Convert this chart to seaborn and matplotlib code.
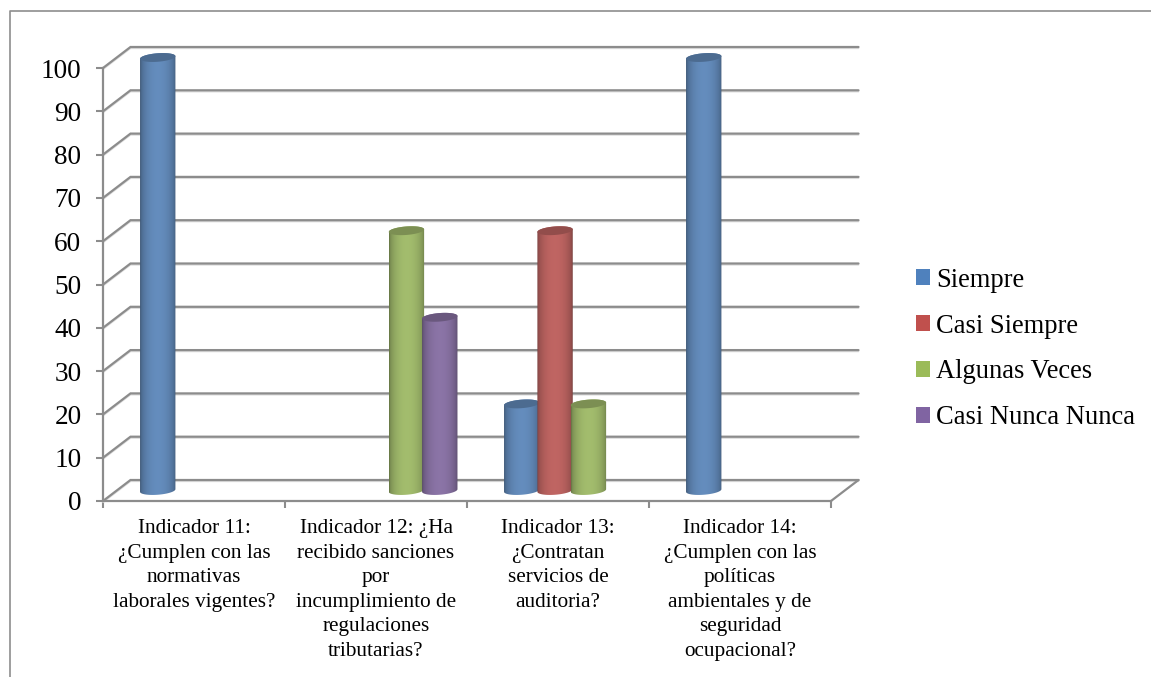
import numpy as np
import pandas as pd
import seaborn as sns
import matplotlib
matplotlib.use("Agg")
import matplotlib.pyplot as plt
from matplotlib.lines import Line2D
from matplotlib.patches import Patch, PathPatch, Polygon, Rectangle
from matplotlib.path import Path

categories = [
    "Indicador 11:\n¿Cumplen con las\nnormativas\nlaborales vigentes?",
    "Indicador 12: ¿Ha\nrecibido sanciones\npor\nincumplimiento de\nregulaciones\ntributarias?",
    "Indicador 13:\n¿Contratan\nservicios de\nauditoria?",
    "Indicador 14:\n¿Cumplen con las\npolíticas\nambientales y de\nseguridad\nocupacional?",
]
series_names = ["Siempre", "Casi Siempre", "Algunas Veces", "Casi Nunca Nunca"]
siempre = [100, 0, 20, 100]
casi_siempre = [0, 0, 60, 0]
algunas_veces = [0, 60, 20, 0]
casi_nunca = [0, 40, 0, 0]
colors = ["#4F81BD", "#C0504D", "#9BBB59", "#8064A2"]
y_ticks = list(range(0, 101, 10))

GRID = "#8c8c8c"
PALE = "#dcdcdc"

sns.set_theme(style="white")
plt.rcParams["font.family"] = ["Liberation Serif", "DejaVu Serif"]

W, H = 1151, 677
fig = plt.figure(figsize=(W / 100, H / 100), dpi=100)
ax = fig.add_axes([103 / W, (H - 501) / H, 728 / W, 433 / H])

table = pd.DataFrame({
    "indicador": categories * 4,
    "serie": np.repeat(series_names, 4),
    "valor": siempre + casi_siempre + algunas_veces + casi_nunca,
})
sns.barplot(data=table, x="indicador", y="valor", hue="serie", hue_order=series_names,
            palette=colors, width=0.733, gap=0, legend=False, ax=ax)

ax.set_xlim(-0.5, 3.5)
ax.set_ylim(0, 100)

# Depth of the chart floor, in data units of each axis
depth_x = 27.5 / 182
depth_y = 21 / 4.33
pale_shift = 0.3

# Back wall and side wall grid
for v in y_ticks:
    xs = [-0.5, -0.5 + depth_x, 3.5 + depth_x]
    ys = [v, v + depth_y, v + depth_y]
    ax.plot(xs, np.array(ys) - pale_shift, color=PALE, lw=1.2, clip_on=False, zorder=1)
    ax.plot(xs, ys, color=GRID, lw=1.6, clip_on=False, zorder=1.1, solid_joinstyle="miter")
ax.plot([3.5, 3.5 + depth_x], [0, depth_y], color=GRID, lw=1.6, clip_on=False, zorder=1.1)


def shaded_strip(rgb, n=64):
    """Horizontal light profile of a lit cylinder, as an RGB strip."""
    t = np.linspace(0, 1, n)
    light = 0.66 + 0.42 * np.sin(np.pi * t) ** 0.45
    return np.clip(np.array(rgb)[None, :] * light[:, None], 0, 1)[None, :, :]


bars = [p for p in ax.patches if isinstance(p, Rectangle)]
cap_h = 8.5 / 4.33
tilt = 0.3
bulge = 1 / 182
angles = np.linspace(0, np.pi, 40)
for index, patch in enumerate(bars):
    h = patch.get_height()
    patch.set_visible(False)
    if not h:
        continue
    x0 = patch.get_x() + depth_x / 2 - bulge
    w = patch.get_width() + 2 * bulge
    cx = x0 + w / 2
    rgb = patch.get_facecolor()[:3]
    base = depth_y / 2
    top = h + depth_y / 2
    slant = np.cos(angles) * tilt
    # Outline: upper half of the top cap, lower half of the base
    upper = np.c_[cx + np.cos(angles) * w / 2, top + np.sin(angles) * cap_h / 2 + slant]
    lower = np.c_[cx - np.cos(angles) * w / 2, base - np.sin(angles) * cap_h / 2 - slant]
    outline = Path(np.vstack([upper, lower, upper[:1]]), closed=True)
    z = 3 + index // 4
    img = ax.imshow(shaded_strip(rgb), extent=(x0, x0 + w, base - cap_h, top + cap_h),
                    aspect="auto", interpolation="bilinear", zorder=z)
    clip = PathPatch(outline, transform=ax.transData, visible=False)
    ax.add_patch(clip)
    img.set_clip_path(clip)
    img.set_clip_box(fig.bbox)
    # Top cap, closed by mirroring the upper half through the slant
    cap_lower = np.c_[cx - np.cos(angles) * w / 2, top - np.sin(angles) * cap_h / 2 - slant]
    ax.add_patch(Polygon(np.vstack([upper, cap_lower]), closed=True, edgecolor="none",
                         facecolor=tuple(np.array(rgb) * 0.82), clip_on=False, zorder=z + 0.5))

ax.set_xlim(-0.5, 3.5)
ax.set_ylim(0, 100)

# Axes, ticks and labels
for side in ("top", "right"):
    ax.spines[side].set_visible(False)
for side in ("left", "bottom"):
    ax.spines[side].set_color(GRID)
    ax.spines[side].set_linewidth(1.6)
    ax.spines[side].set_zorder(1.2)

ax.set_yticks(y_ticks)
ax.tick_params(axis="y", length=5, width=1.5, color=GRID, labelsize=19.6, labelcolor="black", pad=10.5, left=True)
ax.set_xticks(range(4))
ax.set_xticklabels(categories, linespacing=1.39)
ax.set_xticks(np.arange(-0.5, 4), minor=True)
ax.tick_params(axis="x", which="major", length=0, labelsize=15.35, labelcolor="black", pad=13.3)
ax.tick_params(axis="x", which="minor", length=5, width=1.5, color=GRID, bottom=True)
ax.set_xlabel("")
ax.set_ylabel("")

handles = [Patch(facecolor=c, edgecolor="none") for c in colors]
fig.legend(handles, series_names, loc="center left", bbox_to_anchor=(916 / W, 1 - 349 / H), frameon=False,
           fontsize=19.1, handlelength=0.53, handleheight=0.53, handletextpad=0.23,
           labelspacing=0.79, labelcolor="black", borderpad=0, borderaxespad=0)

# Outer frame: only the top and left edges show
fig.add_artist(Line2D([9.5 / W, 9.5 / W, 1], [0, 1 - 11 / H, 1 - 11 / H], color="#8e8e8e", lw=1.2))

fig.savefig("out.png", dpi=100, facecolor="white")
